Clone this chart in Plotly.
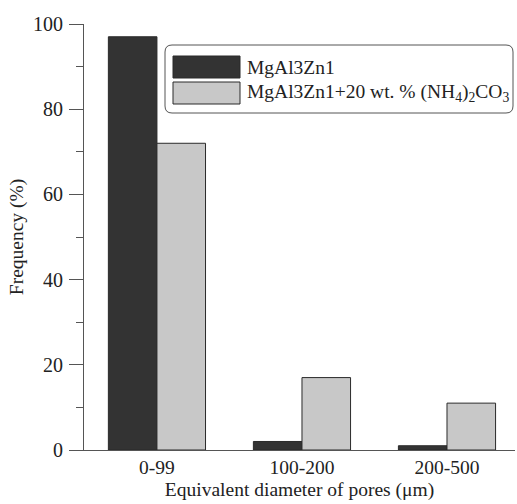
import plotly.graph_objects as go

categories = ["0-99", "100-200", "200-500"]
series_names = ["MgAl3Zn1", "MgAl3Zn1+20 wt. % (NH<sub>4</sub>)<sub>2</sub>CO<sub>3</sub>"]
values_base = [97, 2, 1]
values_nh4 = [72, 17, 11]
colors = ["#333333", "#c8c8c8"]
y_ticks = [0, 20, 40, 60, 80, 100]

FONT = "Liberation Serif, Times New Roman, serif"

fig = go.Figure()
for name, vals, col in zip(series_names, [values_base, values_nh4], colors):
    fig.add_trace(go.Bar(
        x=categories, y=vals, name=name,
        marker=dict(color=col, line=dict(color="#2a2a2a", width=1)),
        showlegend=False,
    ))

W, H = 517, 504
L, R, T, B = 84, 2, 24, 54
pw, ph = W - L - R, H - T - B

def px(x):
    return (x - L) / pw

def py(y):
    return (H - B - y) / ph

shapes = []
# rounded legend box
x0, x1, y0, y1 = px(165), px(513), py(113), py(45)
rx, ry = 7 / pw, 7 / ph
path = (f"M {x0+rx},{y0} L {x1-rx},{y0} Q {x1},{y0} {x1},{y0+ry} "
        f"L {x1},{y1-ry} Q {x1},{y1} {x1-rx},{y1} L {x0+rx},{y1} "
        f"Q {x0},{y1} {x0},{y1-ry} L {x0},{y0+ry} Q {x0},{y0} {x0+rx},{y0} Z")
shapes.append(dict(type="path", xref="paper", yref="paper", path=path,
                   line=dict(color="#555555", width=1), fillcolor="white", layer="above"))
annotations = []
sw_rows = [(56, 78), (82, 104)]
for (ya, yb), col, name in zip(sw_rows, colors, series_names):
    shapes.append(dict(type="rect", xref="paper", yref="paper",
                       x0=px(173), x1=px(240), y0=py(yb), y1=py(ya),
                       fillcolor=col, line=dict(color="#2a2a2a", width=1), layer="above"))
    annotations.append(dict(xref="paper", yref="paper", x=px(245), y=py((ya + yb) / 2),
                            text=name, showarrow=False, xanchor="left", yanchor="middle",
                            font=dict(family=FONT, size=19.5, color="#222222")))

fig.update_layout(
    width=W, height=H,
    margin=dict(l=L, r=R, t=T, b=B, autoexpand=False),
    paper_bgcolor="white", plot_bgcolor="white",
    barmode="group", bargap=0.33, bargroupgap=0,
    font=dict(family=FONT, size=19, color="#222222"),
    shapes=shapes, annotations=annotations,
    xaxis=dict(
        range=[-0.503, 2.469], showline=True, linecolor="#555555", linewidth=1,
        ticks="", showgrid=False, zeroline=False, automargin=False,
        tickfont=dict(family=FONT, size=19.5),
        title=dict(text="Equivalent diameter of pores (μm)", standoff=4,
                   font=dict(family=FONT, size=19.5)),
    ),
    yaxis=dict(
        range=[0, 100], tickvals=y_ticks, showline=True, linecolor="#555555", linewidth=1,
        ticks="outside", ticklen=14, tickcolor="#555555", showgrid=False, zeroline=False,
        automargin=False, ticklabelstandoff=2,
        tickfont=dict(family=FONT, size=20),
        minor=dict(dtick=10, ticks="outside", ticklen=7, tickcolor="#555555", showgrid=False),
        title=dict(text="Frequency (%)", standoff=4, font=dict(family=FONT, size=19.5)),
    ),
)

fig.write_html("out.html", config={"displayModeBar": False},
               post_script="document.body.style.margin='0';document.body.style.padding='0';")
